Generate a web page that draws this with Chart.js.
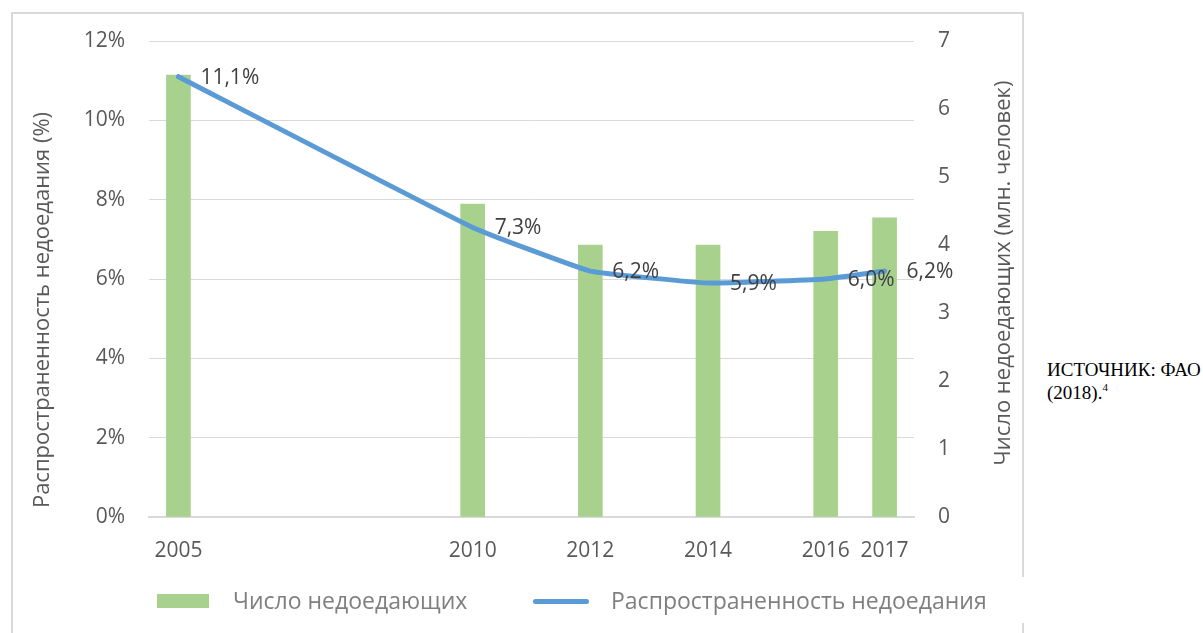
<!DOCTYPE html>
<html>
<head>
<meta charset="utf-8">
<script src="https://cdn.jsdelivr.net/npm/chart.js@4.4.1/dist/chart.umd.min.js"></script>
<style>
  body { margin: 0; background: #fff; font-family: "Open Sans", sans-serif; }
  #wrap { position: relative; width: 1203px; height: 633px; overflow: hidden; }
  #frame { position: absolute; left: 11px; top: 12px; width: 1009px; height: 640px;
           border: 2px solid #d9d9d9; border-bottom: none; }
  #gap { position: absolute; left: 1016px; top: 577px; width: 10px; height: 46px; background: #fff; }
  #box { position: absolute; left: 0; top: 0; width: 1034px; height: 633px; }
  .leg { position: absolute; top: 585px; font-size: 23px; color: #7f7f7f; line-height: 30px; white-space: nowrap; }
  .swatch { position: absolute; }
  #source { position: absolute; left: 1047px; top: 358px; font-family: "Liberation Serif", serif;
            font-size: 19px; line-height: 23px; color: #000; }
  #source sup { font-size: 11px; vertical-align: 8px; line-height: 0; }
</style>
</head>
<body>
<div id="wrap">
  <div id="frame"></div>
  <div id="gap"></div>
  <div id="box"><canvas id="chart"></canvas></div>
  <div class="swatch" style="left:157px;top:594px;width:52px;height:14px;background:#a9d18e"></div>
  <div class="leg" style="left:233px">Число недоедающих</div>
  <div class="swatch" style="left:533px;top:599px;width:56px;height:5px;border-radius:3px;background:#5b9bd5"></div>
  <div class="leg" style="left:611px">Распространенность недоедания</div>
  <div id="source">ИСТОЧНИК: ФАО<br>(2018).<sup>4</sup></div>
</div>
<script>
const years = [2005, 2010, 2012, 2014, 2016, 2017];
const undernourished = [6.5, 4.6, 4.0, 4.0, 4.2, 4.4];   // млн. человек
const prevalence = [11.1, 7.3, 6.2, 5.9, 6.0, 6.2];      // %
const leftTitle = 'Распространенность недоедания (%)';
const rightTitle = 'Число недоедающих (млн. человек)';

const tickColor = '#595959';
const gridColor = '#d9d9d9';

// labels next to line points + rotated axis titles
const extrasPlugin = {
  id: 'extras',
  afterDatasetsDraw(chart) {
    const ctx = chart.ctx;
    const meta = chart.getDatasetMeta(1);
    ctx.save();
    ctx.font = '21px "Open Sans"';
    ctx.fillStyle = '#404040';
    ctx.textBaseline = 'middle';
    meta.data.forEach((pt, i) => {
      ctx.fillText(prevalence[i].toFixed(1).replace('.', ',') + '%', pt.x + 22, pt.y + 1);
    });
    ctx.restore();
  },
  afterDraw(chart) {
    const ctx = chart.ctx;
    const area = chart.chartArea;
    ctx.save();
    ctx.font = '22px "Open Sans"';
    ctx.fillStyle = tickColor;
    ctx.textAlign = 'center';
    ctx.textBaseline = 'middle';
    ctx.translate(area.left - 106, area.top + 269);
    ctx.rotate(-Math.PI / 2);
    ctx.fillText(leftTitle, 0, 0);
    ctx.restore();

    ctx.save();
    ctx.font = '22px "Open Sans"';
    ctx.fillStyle = tickColor;
    ctx.textAlign = 'center';
    ctx.textBaseline = 'middle';
    ctx.translate(area.right + 90, area.top + 232);
    ctx.rotate(-Math.PI / 2);
    ctx.fillText(rightTitle, 0, 0);
    ctx.restore();
  }
};

new Chart(document.getElementById('chart'), {
  data: {
    datasets: [
      {
        type: 'bar',
        label: 'Число недоедающих',
        data: years.map((x, i) => ({ x, y: undernourished[i] })),
        backgroundColor: '#a9d18e',
        barThickness: 24,
        yAxisID: 'y1',
        order: 2,
      },
      {
        type: 'line',
        label: 'Распространенность недоедания',
        data: years.map((x, i) => ({ x, y: prevalence[i] })),
        borderColor: '#5b9bd5',
        borderWidth: 5,
        borderCapStyle: 'round',
        borderJoinStyle: 'round',
        pointRadius: 0,
        tension: 0.1,
        yAxisID: 'y',
        order: 1,
      },
    ],
  },
  options: {
    responsive: true,
    maintainAspectRatio: false,
    animation: false,
    layout: { padding: { top: 41, left: 0, right: 0, bottom: 0 } },
    plugins: { legend: { display: false }, tooltip: { enabled: false } },
    scales: {
      x: {
        type: 'linear',
        offset: false,
        min: 2004.5,
        max: 2017.5,
        afterBuildTicks: (scale) => { scale.ticks = years.map(v => ({ value: v })); },
        afterFit: (scale) => { scale.height = 116; },
        grid: { display: false },
        border: { display: true, color: gridColor, width: 2 },
        ticks: { color: tickColor, font: { family: 'Open Sans', size: 21 }, padding: 13,
                 callback: (v) => String(v), maxRotation: 0, autoSkip: false },
      },
      y: {
        position: 'left',
        min: 0,
        max: 12,
        afterFit: (scale) => { scale.width = 149; },
        grid: { color: gridColor, lineWidth: 1, drawTicks: false },
        border: { display: false },
        ticks: { stepSize: 2, color: tickColor, font: { family: 'Open Sans', size: 21 }, padding: 24,
                 callback: (v) => v + '%' },
      },
      y1: {
        position: 'right',
        min: 0,
        max: 7,
        afterFit: (scale) => { scale.width = 120; },
        grid: { drawOnChartArea: false, drawTicks: false },
        border: { display: false },
        ticks: { stepSize: 1, color: tickColor, font: { family: 'Open Sans', size: 21 }, padding: 24 },
      },
    },
  },
  plugins: [extrasPlugin],
});
</script>
</body>
</html>
